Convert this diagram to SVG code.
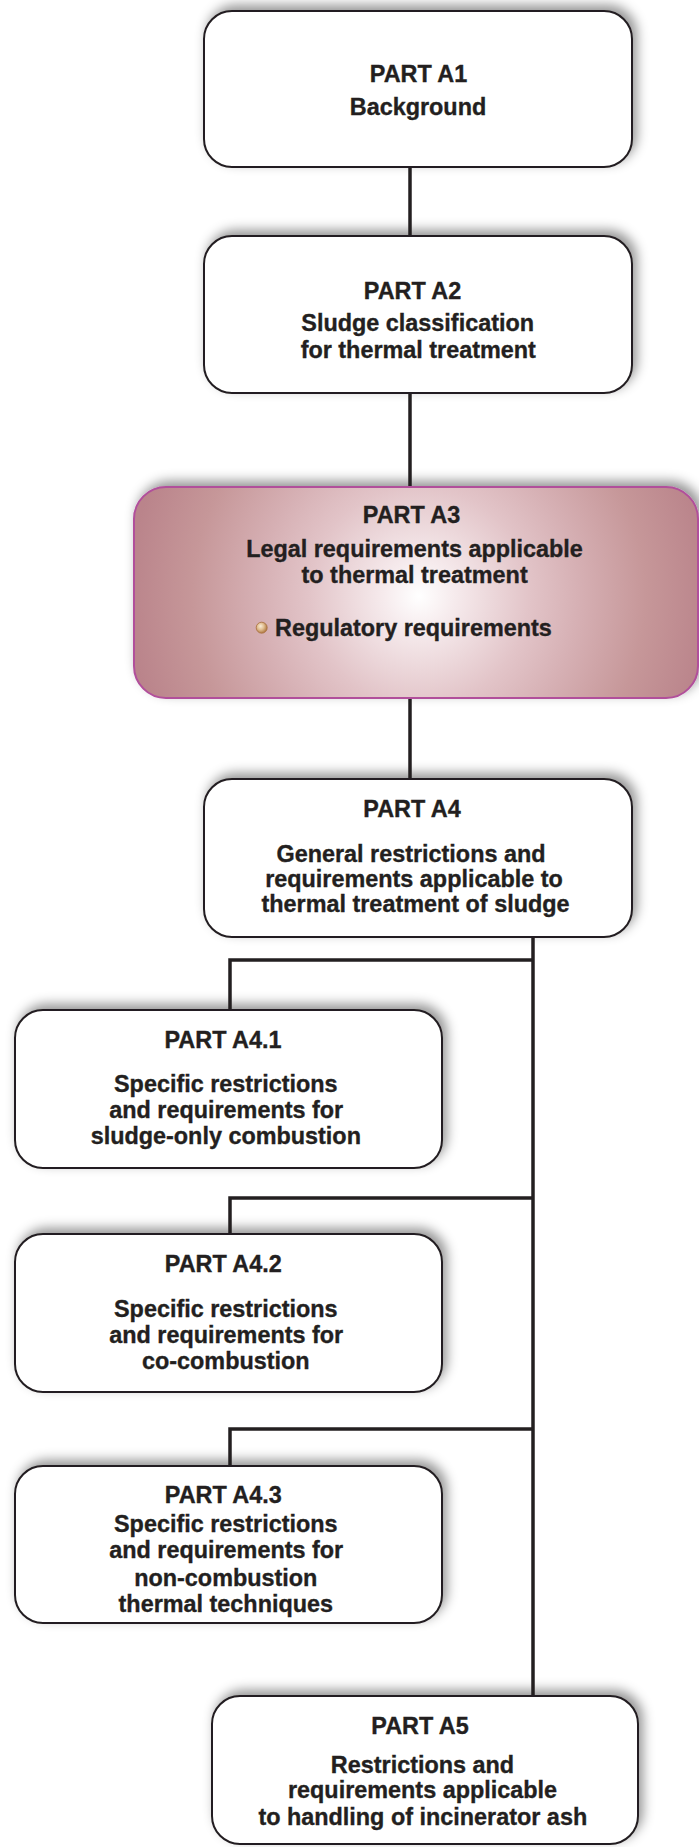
<svg xmlns="http://www.w3.org/2000/svg" width="699" height="1847" viewBox="0 0 699 1847">
<style>
.box{fill:#ffffff;stroke:#231f20;stroke-width:2;filter:url(#sh);}
.hl{fill:url(#pink);stroke:#b14f9b;stroke-width:2;filter:url(#sh);}
.t{font-family:"Liberation Sans",Arial,Helvetica,sans-serif;font-weight:bold;font-size:23.4px;fill:#231f20;stroke:#231f20;stroke-width:0.35px;text-anchor:middle;}
.ts{text-anchor:start;}
.ln{fill:none;stroke:#231f20;stroke-width:3.5;stroke-linecap:butt;stroke-linejoin:miter;}
</style>
<defs>
<filter id="sh" x="-10%" y="-20%" width="120%" height="140%">
<feDropShadow dx="4" dy="-5" stdDeviation="6" flood-color="#000000" flood-opacity="0.42"/>
</filter>
<radialGradient id="pink" gradientUnits="userSpaceOnUse" cx="419" cy="596" r="290">
<stop offset="0" stop-color="#ffffff"/>
<stop offset="0.12" stop-color="#f6ebed"/>
<stop offset="0.38" stop-color="#e2c4c8"/>
<stop offset="0.55" stop-color="#d6b0b4"/>
<stop offset="0.78" stop-color="#c69799"/>
<stop offset="1" stop-color="#ba848b"/>
</radialGradient>
<radialGradient id="bul" cx="0.4" cy="0.4" r="0.6" fx="0.4" fy="0.35">
<stop offset="0" stop-color="#f8ecd8"/>
<stop offset="0.5" stop-color="#e2bf92"/>
<stop offset="1" stop-color="#b07a45"/>
</radialGradient>
</defs>

<g id="A1">
<rect class="box" x="204" y="11" width="428" height="156" rx="28" ry="28"/>
<text class="t" x="418.5" y="81.7">PART A1</text>
<text class="t" x="418" y="114.5">Background</text>
</g>

<g id="A2">
<rect class="box" x="204" y="236" width="428" height="157" rx="28" ry="28"/>
<text class="t" x="412.5" y="299">PART A2</text>
<text class="t" x="417.7" y="331">Sludge classification</text>
<text class="t" x="418.3" y="357.5">for thermal treatment</text>
</g>

<g id="A3">
<rect class="hl" x="134" y="487" width="564" height="211" rx="32" ry="32"/>
<text class="t" x="411.5" y="522.7">PART A3</text>
<text class="t" x="414.5" y="557.3">Legal requirements applicable</text>
<text class="t" x="414.6" y="582.7">to thermal treatment</text>
<circle cx="261.7" cy="627.7" r="5.5" fill="url(#bul)" stroke="#a8703c" stroke-width="0.8"/>
<text class="t ts" x="275" y="636">Regulatory requirements</text>
</g>

<g id="A4">
<rect class="box" x="204" y="779" width="428" height="158" rx="28" ry="28"/>
<text class="t" x="412" y="816.7">PART A4</text>
<text class="t" x="411" y="862">General restrictions and</text>
<text class="t" x="414" y="887">requirements applicable to</text>
<text class="t" x="415.5" y="912">thermal treatment of sludge</text>
</g>

<g id="A4-1">
<rect class="box" x="15" y="1010" width="427" height="158" rx="28" ry="28"/>
<text class="t" x="223" y="1047.7">PART A4.1</text>
<text class="t" x="225.8" y="1091.7">Specific restrictions</text>
<text class="t" x="226.2" y="1118.3">and requirements for</text>
<text class="t" x="225.8" y="1144">sludge-only combustion</text>
</g>

<g id="A4-2">
<rect class="box" x="15" y="1234" width="427" height="158" rx="28" ry="28"/>
<text class="t" x="223.3" y="1271.7">PART A4.2</text>
<text class="t" x="225.8" y="1316.7">Specific restrictions</text>
<text class="t" x="226.2" y="1342.7">and requirements for</text>
<text class="t" x="225.8" y="1368.7">co-combustion</text>
</g>

<g id="A4-3">
<rect class="box" x="15" y="1466" width="427" height="157" rx="28" ry="28"/>
<text class="t" x="223.3" y="1502.7">PART A4.3</text>
<text class="t" x="225.8" y="1531.7">Specific restrictions</text>
<text class="t" x="226.2" y="1558.3">and requirements for</text>
<text class="t" x="225.8" y="1586">non-combustion</text>
<text class="t" x="225.8" y="1611.7">thermal techniques</text>
</g>

<g id="A5">
<rect class="box" x="212" y="1696" width="426" height="148" rx="28" ry="28"/>
<text class="t" x="420" y="1734">PART A5</text>
<text class="t" x="422.5" y="1772.7">Restrictions and</text>
<text class="t" x="422.5" y="1798">requirements applicable</text>
<text class="t" x="422.8" y="1825">to handling of incinerator ash</text>
</g>

<g id="connectors">
<line class="ln" x1="410" y1="168" x2="410" y2="235"/>
<line class="ln" x1="410" y1="394" x2="410" y2="486"/>
<line class="ln" x1="410" y1="699" x2="410" y2="778"/>
<line class="ln" x1="533" y1="938" x2="533" y2="1695"/>
<polyline class="ln" points="533,960 230,960 230,1009"/>
<polyline class="ln" points="533,1198 230,1198 230,1233"/>
<polyline class="ln" points="533,1429 230,1429 230,1465"/>
</g>
</svg>
